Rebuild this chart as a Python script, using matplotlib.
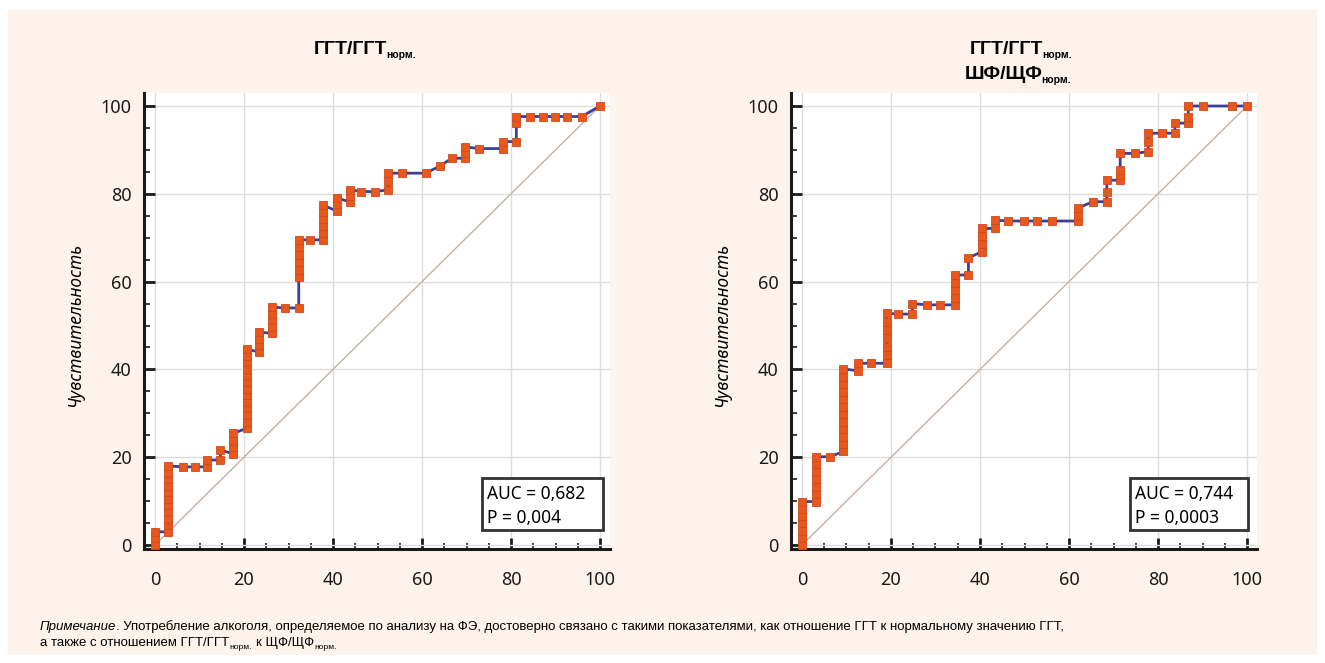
import matplotlib
matplotlib.use('Agg')
import matplotlib.pyplot as plt
from matplotlib.patches import Rectangle
from matplotlib.ticker import MultipleLocator

plt.rcParams['font.family'] = ['Noto Sans', 'DejaVu Sans']

# ---------------- data ----------------
ggt_fpr = [0, 0, 0,
           3, 3, 3, 3, 3, 3, 3, 3, 3, 3, 3,
           6.4, 9.0, 11.6, 11.6,
           14.7, 14.7,
           17.6, 17.6, 17.6, 17.6,
           20.6, 20.6, 20.6, 20.6, 20.6, 20.6, 20.6, 20.6, 20.6, 20.6, 20.6, 20.6, 20.6,
           23.3, 23.3, 23.3, 23.3,
           26.4, 26.4, 26.4, 26.4, 26.4,
           29.2, 32.3,
           32.3, 32.3, 32.3, 32.3, 32.3, 32.3,
           34.8, 37.8, 37.8, 37.8, 37.8, 37.8, 37.8,
           40.8, 40.8, 40.8,
           43.8, 43.8, 43.8,
           46.4, 49.4, 52.4, 52.4, 52.4,
           55.4, 60.8,
           64.0, 66.7, 69.7, 69.7, 69.7,
           72.7, 78.3, 78.3, 81.2,
           81.2, 81.2,
           84.3, 87.3, 89.9, 92.5, 95.9, 100]
ggt_tpr = [0, 1.5, 3.0,
           3.0, 4.5, 6.0, 7.5, 9.0, 10.5, 12.0, 13.5, 15.0, 16.5, 18.0,
           17.8, 17.8, 17.8, 19.3,
           19.4, 21.6,
           20.8, 22.3, 23.8, 25.4,
           26.6, 28.1, 29.6, 31.1, 32.6, 34.1, 35.6, 37.1, 38.6, 40.1, 41.6, 43.1, 44.6,
           44.0, 45.5, 47.0, 48.5,
           48.2, 49.7, 51.2, 52.7, 54.2,
           54.0, 54.0,
           61.0, 62.7, 64.4, 66.1, 67.8, 69.5,
           69.5, 69.5, 71.1, 72.7, 74.2, 75.8, 77.4,
           76.1, 77.6, 79.0,
           78.2, 79.6, 80.9,
           80.5, 80.5, 80.9, 82.9, 84.7,
           84.7, 84.7,
           86.3, 88.1, 88.1, 89.4, 90.7,
           90.3, 90.3, 91.9, 91.9,
           96.1, 97.6,
           97.6, 97.6, 97.6, 97.6, 97.6, 100]

ratio_fpr = [0, 0, 0, 0, 0, 0, 0,
             3.1, 3.1, 3.1, 3.1, 3.1, 3.1, 3.1,
             6.3,
             9.3, 9.3, 9.3, 9.3, 9.3, 9.3, 9.3, 9.3, 9.3, 9.3, 9.3, 9.3,
             12.5, 12.5, 15.5,
             19.0, 19.0, 19.0, 19.0, 19.0, 19.0, 19.0,
             21.6, 24.8, 24.8, 28.0, 31.0,
             34.4, 34.4, 34.4, 34.4, 34.4,
             37.4, 37.4,
             40.4, 40.4, 40.4, 40.4,
             43.4, 43.4,
             46.4, 49.8, 52.7, 56.1,
             62.0, 62.0, 62.0,
             65.3, 68.5, 68.5, 68.5,
             71.5, 71.5, 71.5, 71.5,
             74.8, 77.8, 77.8, 77.8,
             80.8, 83.8, 83.8,
             86.8, 86.8, 86.8,
             90.2, 96.6, 100]
ratio_tpr = [0, 1.7, 3.3, 5.0, 6.6, 8.3, 9.9,
             9.9, 11.6, 13.3, 15.0, 16.7, 18.4, 20.1,
             20.1,
             21.3, 23.0, 24.7, 26.4, 28.1, 29.8, 31.5, 33.2, 34.9, 36.6, 38.3, 40.1,
             39.7, 41.4, 41.4,
             41.4, 43.3, 45.2, 47.1, 49.0, 50.9, 52.8,
             52.6, 52.6, 55.0, 54.7, 54.7,
             54.7, 56.3, 58.0, 59.7, 61.5,
             61.5, 65.4,
             66.8, 68.6, 70.3, 72.1,
             72.1, 74.0,
             73.8, 73.8, 73.8, 73.8,
             73.8, 75.2, 76.7,
             78.2, 78.2, 80.5, 83.1,
             83.1, 84.3, 85.4, 89.2,
             89.2, 89.6, 91.7, 93.8,
             93.8, 93.8, 96.1,
             96.1, 97.6, 100,
             100, 100, 100]

ticks = [0, 20, 40, 60, 80, 100]
auc_texts = [["AUC = 0,682", "P = 0,004"], ["AUC = 0,744", "P = 0,0003"]]
ylabel = "Чувствительность"

# ---------------- figure ----------------
W, H = 1325, 663
fig = plt.figure(figsize=(W / 100, H / 100), dpi=100, facecolor='white')


def fx(px):
    return px / W


def fy(py):
    return 1 - py / H


fig.patches.append(Rectangle((fx(8), fy(655)), fx(1317) - fx(8), fy(10) - fy(655),
                             transform=fig.transFigure, facecolor='#fdf3ea',
                             edgecolor='none', zorder=-10))

PXU = 4.45  # px per unit x
PYU = 4.39


def make_axes(left_px, zero_px, right_px):
    top_px, bot_px, y0_px = 93, 549, 545
    ax = fig.add_axes([fx(left_px), fy(bot_px), fx(right_px) - fx(left_px), fy(top_px) - fy(bot_px)])
    ax.set_xlim(-(zero_px - left_px) / PXU, (right_px - zero_px) / PXU)
    ax.set_ylim(-(bot_px - y0_px) / PYU, (y0_px - top_px) / PYU)
    ax.set_facecolor('white')
    for s in ['top', 'right']:
        ax.spines[s].set_visible(False)
    for s in ['left', 'bottom']:
        ax.spines[s].set_linewidth(2.2)
        ax.spines[s].set_color('#1a1a1a')
    ax.set_xticks(ticks)
    ax.set_yticks(ticks)
    ax.xaxis.set_minor_locator(MultipleLocator(5))
    ax.yaxis.set_minor_locator(MultipleLocator(5))
    ax.tick_params(which='major', direction='in', length=8, width=2, labelsize=13, colors='#1a1a1a')
    ax.tick_params(which='minor', direction='in', length=4, width=1.2, colors='#1a1a1a')
    ax.tick_params(axis='x', which='major', pad=16)
    ax.tick_params(axis='y', which='major', pad=9)
    ax.grid(which='major', color='#dddddd', lw=1)
    ax.set_axisbelow(True)
    return ax


ax1 = make_axes(144, 155, 610)
ax2 = make_axes(791, 802, 1257)

for ax, fpr, tpr in [(ax1, ggt_fpr, ggt_tpr), (ax2, ratio_fpr, ratio_tpr)]:
    ax.plot([0, 100], [0, 100], color='#c4b0a4', lw=1, zorder=2)
    ax.plot(fpr, tpr, color='#3b3f98', lw=2, marker='s', ms=6.4,
            mfc='#e8581c', mec='#cf4a1c', mew=0.6, zorder=3, clip_on=False)

# AUC boxes
for (x0, x1), lines in zip([(482, 603), (1130, 1248)], auc_texts):
    fig.patches.append(Rectangle((fx(x0), fy(530)), fx(x1) - fx(x0), fy(478) - fy(530),
                                 transform=fig.transFigure, facecolor='white',
                                 edgecolor='#333333', lw=2, zorder=5))
    fig.text(fx(x0 + 5), fy(499), lines[0], fontsize=12.5, va='baseline', ha='left', zorder=6)
    fig.text(fx(x0 + 5), fy(523), lines[1], fontsize=12.5, va='baseline', ha='left', zorder=6)

# y labels
for xp in [75, 722]:
    fig.text(fx(xp), fy(325), ylabel, rotation=90, fontsize=12.5, style='italic',
             ha='center', va='center')

NARROW = ['Liberation Sans Narrow', 'Liberation Sans', 'DejaVu Sans']
renderer = fig.canvas.get_renderer()


def rich(x, y, segs, ha='left'):
    items = []
    total = 0
    for s, kw, dy, gap in segs:
        t = fig.text(0, 0, s, va='baseline', ha='left', **kw)
        w = t.get_window_extent(renderer).width
        items.append((t, w, dy, gap))
        total += gap + w
    cur = x - total / 2 if ha == 'center' else x
    for t, w, dy, gap in items:
        cur += gap
        t.set_position((cur / W, 1 - (y + dy) / H))
        cur += w


big = dict(fontsize=14, fontweight='bold', family=NARROW)
sub = dict(fontsize=7.5, fontweight='bold', family=NARROW)
rich(365, 54, [("ГГТ/ГГТ", big, 0, 0), ("норм.", sub, 4, -1)], ha='center')
rich(1021, 54, [("ГГТ/ГГТ", big, 0, 0), ("норм.", sub, 4, -1)], ha='center')
rich(1018, 79, [("ШФ/ЩФ", big, 0, 0), ("норм.", sub, 4, -1)], ha='center')

nt = dict(fontsize=9.5, family=NARROW)
ni = dict(fontsize=9.5, family=NARROW, style='italic')
ns = dict(fontsize=6, family=NARROW)
rich(40, 630, [("Примечание", ni, 0, 0),
               (". Употребление алкоголя, определяемое по анализу на ФЭ, достоверно связано с такими "
                "показателями, как отношение ГГТ к нормальному значению ГГТ,", nt, 0, 0)])
rich(40, 646, [("а также с отношением ГГТ/ГГТ", nt, 0, 0), ("норм.", ns, 3, 0.5),
               ("к ЩФ/ЩФ", nt, 0, 4), ("норм.", ns, 3, 0.5)])

fig.savefig('out.png', dpi=100, facecolor='white')
